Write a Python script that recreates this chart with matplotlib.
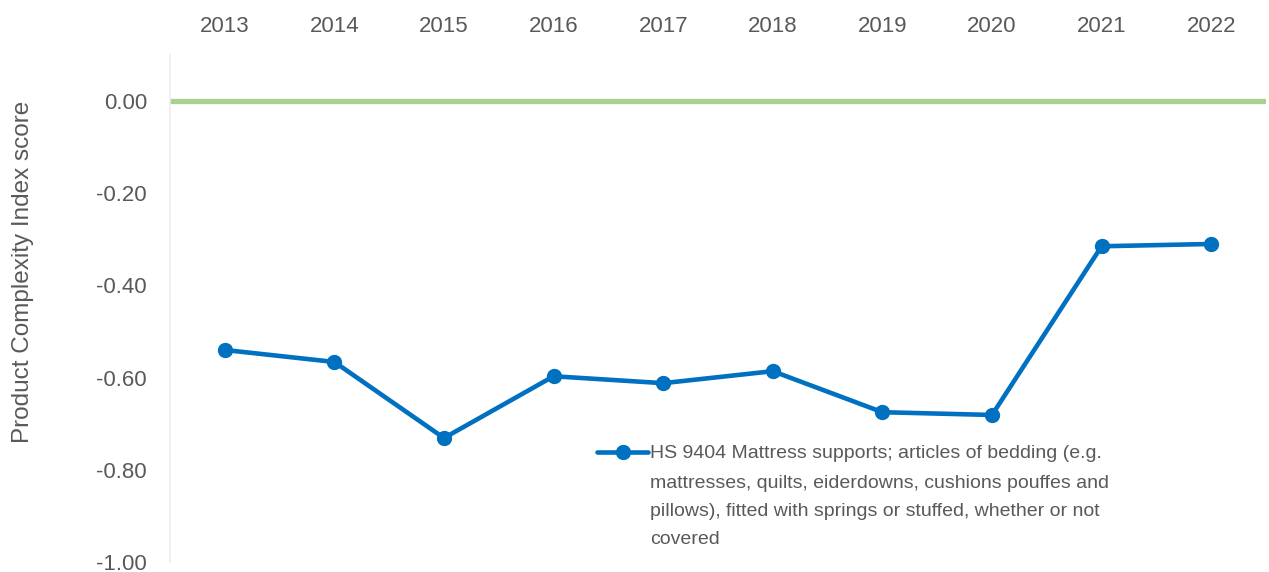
import matplotlib.pyplot as plt
import numpy as np

# Data
years = ["2013", "2014", "2015", "2016", "2017", "2018", "2019", "2020", "2021", "2022"]
pci = [-0.540, -0.566, -0.731, -0.597, -0.612, -0.586, -0.675, -0.681, -0.315, -0.310]
baseline = [0.0] * len(years)
yticks = [0.0, -0.2, -0.4, -0.6, -0.8, -1.0]
label_first = "HS 9404 Mattress supports; articles of bedding (e.g."
label_rest = ("mattresses, quilts, eiderdowns, cushions pouffes and\n"
              "pillows), fitted with springs or stuffed, whether or not\n"
              "covered")

txt = "#595959"
plt.rcParams['font.family'] = ['Liberation Sans', 'DejaVu Sans']

f = plt.figure(figsize=(12.69, 5.72), dpi=100)
ax = f.add_axes([170/1269, 10/572, 1096/1269, 507/572])

x = np.arange(len(years))
# zero reference line across full width
ax.axhline(baseline[0], color="#A9D18E", lw=3.8, zorder=1)
ax.plot(x, pci, color="#0070C0", lw=3.3, marker="o", ms=10,
        solid_capstyle="round", zorder=3, label=label_first)

ax.set_xlim(-0.5, len(years) - 0.5)
ax.set_ylim(-1.0, 0.1)
ax.set_xticks(x)
ax.set_xticklabels(years)
ax.xaxis.tick_top()
ax.set_yticks(yticks)
ax.set_yticklabels(["%.2f" % v for v in yticks])
ax.tick_params(axis="x", length=0, pad=13, labelsize=16, labelcolor=txt)
ax.tick_params(axis="y", length=0, pad=16.5, labelsize=16, labelcolor=txt)

for s in ["top", "right", "bottom"]:
    ax.spines[s].set_visible(False)
ax.spines["left"].set_color("#EDEDED")
ax.spines["left"].set_linewidth(1.2)

ax.set_ylabel("Product Complexity Index score", fontsize=17.5, color=txt)
ax.yaxis.set_label_coords(-0.124, 0.572)

leg = ax.legend(loc="upper left", bbox_to_anchor=(0.3896, 0.231), frameon=False,
                fontsize=14, handlelength=2.63, handletextpad=0.1,
                borderpad=0, borderaxespad=0)
for t in leg.get_texts():
    t.set_color(txt)
# remaining legend lines, hung under the first legend line (drawn after legend)
ax.annotate(label_rest, xy=(0, 0), xycoords=leg.get_texts()[0],
            xytext=(0, -9.2), textcoords="offset points", va="top", ha="left",
            fontsize=14, color=txt, linespacing=1.84, zorder=10)

f.savefig("out.png", dpi=100)
